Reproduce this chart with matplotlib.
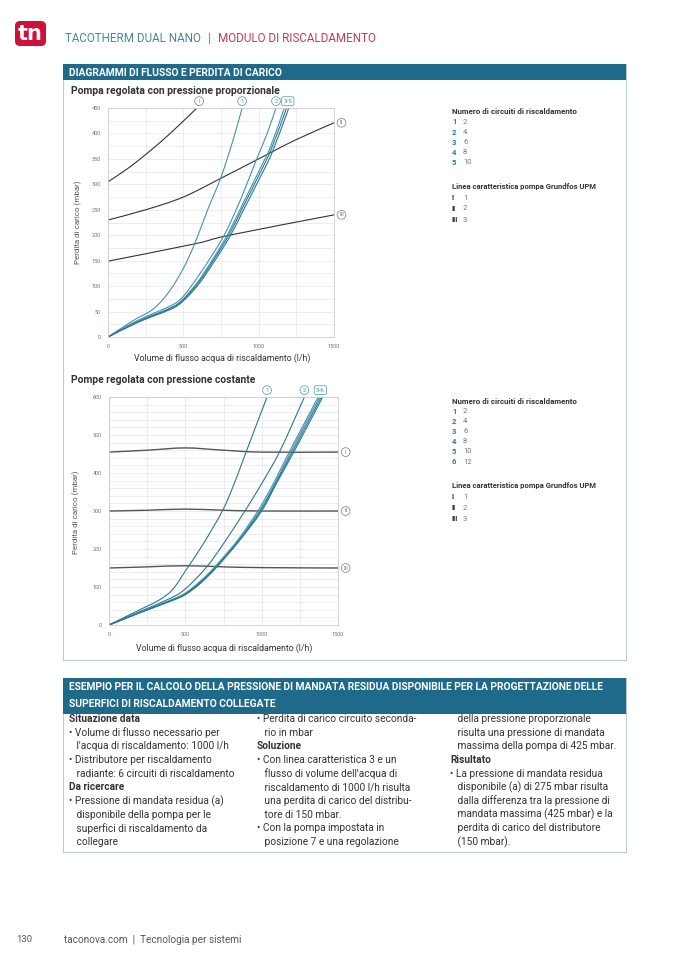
import matplotlib
matplotlib.use("Agg")
import matplotlib.pyplot as plt
from matplotlib.patches import Rectangle, FancyBboxPatch, PathPatch
from matplotlib.path import Path
from matplotlib.ticker import MultipleLocator

plt.rcParams['font.family'] = ['Roboto', 'DejaVu Sans']

W, H = 678, 959

# --- chart 1: pompa regolata con pressione proporzionale ---
pa_pump_I_x = [0, 140, 276, 420, 590]
pa_pump_I_y = [305, 333, 365, 402, 450]
pa_pump_II_x = [0, 250, 500, 750, 980, 1090, 1250, 1500]
pa_pump_II_y = [230, 250, 275, 312, 347, 364, 388, 421]
pa_pump_III_x = [0, 575, 805, 1500]
pa_pump_III_y = [149, 183, 200, 240]

pa_c1_x = [0, 165, 300, 408, 500, 575, 660, 750, 830, 890]
pa_c1_y = [0, 32, 55, 90, 135, 183, 249, 314, 387, 450]
pa_c2_x = [0, 200, 420, 500, 600, 700, 780, 880, 980, 1050, 1115]
pa_c2_y = [0, 33, 62, 80, 120, 165, 205, 270, 345, 395, 450]
pa_c3_x = [0, 200, 420, 500, 600, 700, 800, 900, 1000, 1080, 1170]
pa_c3_y = [0, 31, 58, 75, 110, 155, 205, 265, 325, 375, 450]
pa_c4_x = [0, 200, 420, 500, 600, 700, 805, 900, 1000, 1085, 1185]
pa_c4_y = [0, 30, 57, 73, 107, 151, 202, 258, 317, 370, 450]
pa_c5_x = [0, 200, 420, 500, 600, 700, 810, 900, 1000, 1090, 1200]
pa_c5_y = [0, 29, 55, 71, 103, 146, 198, 250, 308, 363, 450]

# --- chart 2: pompe regolata con pressione costante ---
pc_pump_x = [0, 250, 500, 750, 1000, 1500]
pc_pump_I = [455, 460, 466, 460, 455, 455]
pc_pump_II = [300, 302, 305, 302, 300, 300]
pc_pump_III = [150, 153, 156, 153, 151, 150]

pc_c1_x = [0, 150, 330, 420, 505, 620, 745, 820, 895, 1035]
pc_c1_y = [0, 30, 66, 95, 145, 215, 302, 372, 452, 600]
pc_c2_x = [0, 200, 400, 500, 640, 760, 890, 1000, 1120, 1280]
pc_c2_y = [0, 35, 70, 95, 153, 220, 300, 372, 458, 600]
pc_c3_x = [0, 200, 400, 500, 600, 690, 840, 975, 1080, 1180, 1370]
pc_c3_y = [0, 33, 65, 84, 116, 152, 222, 300, 375, 455, 600]
pc_c4_x = [0, 200, 400, 500, 600, 695, 845, 985, 1090, 1190, 1380]
pc_c4_y = [0, 33, 64, 83, 114, 151, 221, 300, 375, 455, 600]
pc_c5_x = [0, 200, 400, 500, 600, 698, 848, 993, 1095, 1200, 1390]
pc_c5_y = [0, 32, 63, 81, 112, 150, 220, 300, 375, 455, 600]
pc_c6_x = [0, 200, 400, 500, 600, 700, 850, 1000, 1100, 1210, 1400]
pc_c6_y = [0, 32, 62, 80, 110, 150, 220, 300, 375, 455, 600]

legend1_num = ['1', '2', '3', '4', '5']
legend1_val = ['2', '4', '6', '8', '10']
legend2_num = ['1', '2', '3', '4', '5', '6']
legend2_val = ['2', '4', '6', '8', '10', '12']
pump_num = ['I', 'II', 'III']
pump_val = ['1', '2', '3']

col1 = [("Situazione data", True),
        ("• Volume di flusso necessario per", False),
        ("   l'acqua di riscaldamento: 1000 l/h", False),
        ("• Distributore per riscaldamento", False),
        ("   radiante: 6 circuiti di riscaldamento", False),
        ("Da ricercare", True),
        ("• Pressione di mandata residua (a)", False),
        ("   disponibile della pompa per le", False),
        ("   superfici di riscaldamento da", False),
        ("   collegare", False)]
col2 = [("• Perdita di carico circuito seconda-", False),
        ("   rio in mbar", False),
        ("Soluzione", True),
        ("• Con linea caratteristica 3 e un", False),
        ("   flusso di volume dell'acqua di", False),
        ("   riscaldamento di 1000 l/h risulta", False),
        ("   una perdita di carico del distribu-", False),
        ("   tore di 150 mbar.", False),
        ("• Con la pompa impostata in", False),
        ("   posizione 7 e una regolazione", False)]
col3 = [("   della pressione proporzionale", False),
        ("   risulta una pressione di mandata", False),
        ("   massima della pompa di 425 mbar.", False),
        ("Risultato", True),
        ("• La pressione di mandata residua", False),
        ("   disponibile (a) di 275 mbar risulta", False),
        ("   dalla differenza tra la pressione di", False),
        ("   mandata massima (425 mbar) e la", False),
        ("   perdita di carico del distributore", False),
        ("   (150 mbar).", False)]

BAND = '#1f6a8a'
BORDER = '#b9cad4'
BLUE = '#4593ab'
DBLUE = '#2a7894'
PUMP = '#333333'
TXT = '#333333'
GRAY = '#777777'

fig = plt.figure(figsize=(W / 100, H / 100), dpi=100)
bg = fig.add_axes([0, 0, 1, 1])
bg.set_xlim(0, W)
bg.set_ylim(H, 0)
bg.axis('off')
renderer = fig.canvas.get_renderer()


def fit_text(x, y, s, width, size, **kw):
    # shrink/grow the font so the text spans about `width` pixels
    t = bg.text(x, y, s, fontsize=size, va='center', **kw)
    w = t.get_window_extent(renderer).width
    t.set_fontsize(size * width / w)
    return t


# header
bg.add_patch(FancyBboxPatch((15, 21), 31, 25, boxstyle='round,pad=0,rounding_size=5',
                            fc='#d0103a', ec='none'))
bg.text(30.5, 34, 'tn', color='white', fontsize=15, fontweight='bold',
        ha='center', va='center', family=['DejaVu Sans'])
hm = fit_text(218, 38, 'MODULO DI RISCALDAMENTO', 158, 9, color='#c9375a')
hs = hm.get_fontsize()
bg.text(65, 38, 'TACOTHERM DUAL NANO', fontsize=hs, color='#4a86a0', va='center')
bg.text(209, 38, '|', fontsize=hs, color='#4a86a0', va='center', ha='center')

# section 1 frame
bg.add_patch(Rectangle((63, 64), 563, 596, fc='white', ec=BORDER, lw=0.8))
bg.add_patch(Rectangle((63, 64), 563, 16, fc=BAND, ec='none'))
fit_text(69, 72.5, 'DIAGRAMMI DI FLUSSO E PERDITA DI CARICO', 214, 7.5,
         color='white', fontweight='bold')

# section 2 frame
bg.add_patch(Rectangle((63, 678), 563, 174, fc='white', ec=BORDER, lw=0.8))
bg.add_patch(Rectangle((63, 678), 563, 36, fc=BAND, ec='none'))
th = fit_text(69, 687, 'ESEMPIO PER IL CALCOLO DELLA PRESSIONE DI MANDATA RESIDUA DISPONIBILE PER LA PROGETTAZIONE DELLE',
              536, 7.5, color='white', fontweight='bold')
bg.text(69, 704, 'SUPERFICI DI RISCALDAMENTO COLLEGATE', color='white',
        fontsize=th.get_fontsize(), fontweight='bold', va='center')

for x0, col in [(69, col1), (257, col2), (450, col3)]:
    for i, (line, bold) in enumerate(col):
        bg.text(x0, 719 + i * 13.65, line, fontsize=7.3, color=TXT, va='center',
                fontweight='bold' if bold else 'normal')

# footer
bg.text(16, 940, '130', fontsize=6.8, color='#555555', va='center')
fit_text(64, 940, 'taconova.com  |  Tecnologia per sistemi', 177, 6.8, color='#555555')


def px_axes(l, t, r, b):
    return fig.add_axes([l / W, 1 - b / H, (r - l) / W, (b - t) / H])


def style_axes(ax, ymax, ymajor, yminor):
    ax.set_xlim(0, 1500)
    ax.set_ylim(0, ymax)
    ax.xaxis.set_major_locator(MultipleLocator(500))
    ax.xaxis.set_minor_locator(MultipleLocator(250))
    ax.yaxis.set_major_locator(MultipleLocator(ymajor))
    ax.yaxis.set_minor_locator(MultipleLocator(yminor))
    ax.grid(True, which='both', color='#e6e6e6', lw=0.5)
    ax.set_axisbelow(True)
    ax.tick_params(which='both', length=0, labelsize=4, labelcolor=GRAY, pad=5)
    for s in ax.spines.values():
        s.set_color('#cccccc')
        s.set_linewidth(0.6)


def curve(ax, xs, ys, color, lw=0.8):
    # smooth Catmull-Rom style bezier through the read points
    pts = list(zip(xs, ys))
    n = len(pts)
    verts = [pts[0]]
    codes = [Path.MOVETO]
    for i in range(n - 1):
        p0 = pts[i - 1] if i > 0 else pts[i]
        p1, p2 = pts[i], pts[i + 1]
        p3 = pts[i + 2] if i + 2 < n else pts[i + 1]
        c1 = (p1[0] + (p2[0] - p0[0]) / 6, p1[1] + (p2[1] - p0[1]) / 6)
        c2 = (p2[0] - (p3[0] - p1[0]) / 6, p2[1] - (p3[1] - p1[1]) / 6)
        verts += [c1, c2, p2]
        codes += [Path.CURVE4] * 3
    ax.add_patch(PathPatch(Path(verts, codes), fill=False, ec=color, lw=lw,
                           capstyle='round'))


def tag(ax, x, y, s, color, shape='circle', trans=None):
    ax.text(x, y, s, fontsize=4.5, color=color, ha='center', va='center',
            transform=trans if trans is not None else ax.transData, clip_on=False,
            bbox=dict(boxstyle=shape + ',pad=0.3', fc='white', ec=color, lw=0.5))


# chart 1
ax1 = px_axes(108, 108, 334, 337)
style_axes(ax1, 450, 50, 25)
curve(ax1, pa_pump_I_x, pa_pump_I_y, PUMP)
curve(ax1, pa_pump_II_x, pa_pump_II_y, PUMP)
curve(ax1, pa_pump_III_x, pa_pump_III_y, PUMP)
for cx, cy, c in [(pa_c1_x, pa_c1_y, BLUE), (pa_c2_x, pa_c2_y, BLUE),
                  (pa_c3_x, pa_c3_y, BLUE), (pa_c4_x, pa_c4_y, DBLUE),
                  (pa_c5_x, pa_c5_y, DBLUE)]:
    curve(ax1, cx, cy, c)
top1 = ax1.get_xaxis_transform()
tag(ax1, pa_pump_I_x[-1] + 15, 1.03, 'I', GRAY, trans=top1)
tag(ax1, pa_c1_x[-1], 1.03, '1', BLUE, trans=top1)
tag(ax1, pa_c2_x[-1], 1.03, '2', BLUE, trans=top1)
tag(ax1, pa_c4_x[-1] + 8, 1.03, '3-5', BLUE, shape='round', trans=top1)
tag(ax1, 1550, pa_pump_II_y[-1], 'II', GRAY)
tag(ax1, 1550, pa_pump_III_y[-1], 'III', GRAY)

fit_text(71, 91, 'Pompa regolata con pressione proporzionale', 210, 7,
         fontweight='bold', color=TXT)
bg.text(78, 222, 'Perdita di carico (mbar)', fontsize=5.8, color='#555555',
        rotation=90, ha='center', va='center')
bg.text(222, 358, 'Volume di flusso acqua di riscaldamento (l/h)', fontsize=6.3,
        color=TXT, ha='center', va='center')

# chart 2
ax2 = px_axes(109, 397, 338, 625)
style_axes(ax2, 600, 100, 20)
for py in [pc_pump_I, pc_pump_II, pc_pump_III]:
    curve(ax2, pc_pump_x, py, '#555555', lw=1.0)
for cx, cy, c in [(pc_c1_x, pc_c1_y, DBLUE), (pc_c2_x, pc_c2_y, DBLUE),
                  (pc_c3_x, pc_c3_y, BLUE), (pc_c4_x, pc_c4_y, BLUE),
                  (pc_c5_x, pc_c5_y, DBLUE), (pc_c6_x, pc_c6_y, DBLUE)]:
    curve(ax2, cx, cy, c)
top2 = ax2.get_xaxis_transform()
tag(ax2, pc_c1_x[-1], 1.03, '1', BLUE, trans=top2)
tag(ax2, pc_c2_x[-1], 1.03, '2', BLUE, trans=top2)
tag(ax2, pc_c4_x[-1] + 5, 1.03, '3-6', BLUE, shape='round', trans=top2)
tag(ax2, 1550, pc_pump_I[-1], 'I', GRAY)
tag(ax2, 1550, pc_pump_II[-1], 'II', GRAY)
tag(ax2, 1550, pc_pump_III[-1], 'III', GRAY)

fit_text(71, 380, 'Pompe regolata con pressione costante', 186, 7,
         fontweight='bold', color=TXT)
bg.text(76, 512, 'Perdita di carico (mbar)', fontsize=5.8, color='#555555',
        rotation=90, ha='center', va='center')
bg.text(224, 648, 'Volume di flusso acqua di riscaldamento (l/h)', fontsize=6.3,
        color=TXT, ha='center', va='center')


# legends
def legend(y0, nums, vals):
    fit_text(452, y0, 'Numero di circuiti di riscaldamento', 125, 5,
             fontweight='bold', color=TXT)
    for i, (n, v) in enumerate(zip(nums, vals)):
        y = y0 + 10 + i * 10.1
        bg.text(452, y, n, fontsize=5.5, fontweight='bold', color=DBLUE, va='center')
        bg.text(463, y, v, fontsize=5.5, color=GRAY, va='center')
    y1 = y0 + 10 + len(nums) * 10.1 + 14
    fit_text(452, y1, 'Linea caratteristica pompa Grundfos UPM', 146, 5,
             fontweight='bold', color=TXT)
    for i, (n, v) in enumerate(zip(pump_num, pump_val)):
        y = y1 + 11 + i * 11
        bg.text(452, y, n, fontsize=5.5, fontweight='bold', color=TXT, va='center')
        bg.text(463, y, v, fontsize=5.5, color=GRAY, va='center')


legend(112, legend1_num, legend1_val)
legend(401, legend2_num, legend2_val)

fig.savefig('out.png', dpi=100)
